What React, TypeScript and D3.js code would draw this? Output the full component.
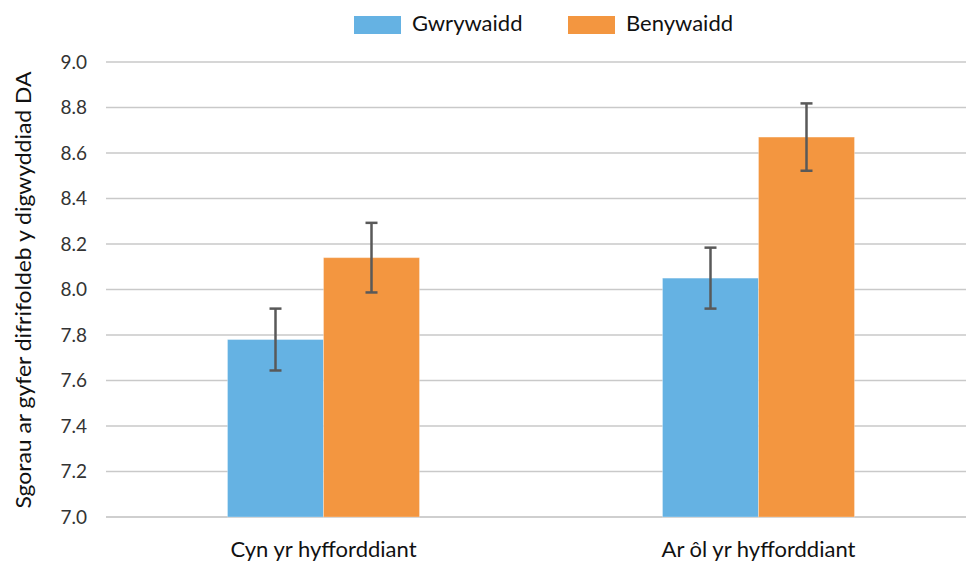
import React from "react";
import * as d3 from "d3";

const categories = ["Cyn yr hyfforddiant", "Ar ôl yr hyfforddiant"];
const seriesNames = ["Gwrywaidd", "Benywaidd"];
const maleValues = [7.78, 8.05];
const femaleValues = [8.14, 8.67];
const maleErrors = [0.136, 0.134];
const femaleErrors = [0.153, 0.148];
const yTicks = [7.0, 7.2, 7.4, 7.6, 7.8, 8.0, 8.2, 8.4, 8.6, 8.8, 9.0];
const colors = ["#65B2E3", "#F39640"];

const W = 966;
const H = 563;
const FONT = "Lato, 'Open Sans', sans-serif";

export default function App() {
  const left = 106;
  const right = 976;
  const top = 62;
  const bottom = 517;

  const x = d3.scaleBand<string>().domain(categories).range([left, right]).paddingInner(0).paddingOuter(0);
  const y = d3.scaleLinear().domain([7, 9]).range([bottom, top]);
  const barW = 96;
  const series = [
    { name: seriesNames[0], values: maleValues, errs: maleErrors, color: colors[0] },
    { name: seriesNames[1], values: femaleValues, errs: femaleErrors, color: colors[1] },
  ];

  return (
    <svg width={W} height={H} style={{ display: "block", position: "absolute", left: 0, top: 0 }} fontFamily={FONT}>
      <rect width={W} height={H} fill="#fff" />
      {yTicks.map((t) => (
        <g key={t}>
          <line x1={left} x2={W} y1={y(t)} y2={y(t)} stroke={t === 7 ? "#BFBFBF" : "#C9C9C9"} strokeWidth={1.5} />
          <text x={87} y={y(t)} dy="0.35em" textAnchor="end" fontSize={19} fill="#333">
            {t.toFixed(1)}
          </text>
        </g>
      ))}
      {categories.map((c, i) => {
        const cx = (x(c) as number) + x.bandwidth() / 2;
        return (
          <g key={c}>
            {series.map((s, j) => {
              const bx = cx - barW + j * barW;
              const v = s.values[i];
              const e = s.errs[i];
              const mx = bx + barW / 2;
              return (
                <g key={s.name}>
                  <rect x={bx} y={y(v)} width={barW} height={y(7) - y(v)} fill={s.color} stroke="#fff" strokeOpacity={0.3} strokeWidth={1} />
                  <line x1={mx} x2={mx} y1={y(v + e)} y2={y(v - e)} stroke="#595959" strokeWidth={2.5} />
                  <line x1={mx - 6} x2={mx + 6} y1={y(v + e)} y2={y(v + e)} stroke="#595959" strokeWidth={2.5} />
                  <line x1={mx - 6} x2={mx + 6} y1={y(v - e)} y2={y(v - e)} stroke="#595959" strokeWidth={2.5} />
                </g>
              );
            })}
            <text x={cx} y={557} textAnchor="middle" fontSize={22} fill="#111">
              {c}
            </text>
          </g>
        );
      })}
      <text transform={`translate(31,290) rotate(-90)`} textAnchor="middle" fontSize={22} fill="#111" textLength={437} lengthAdjust="spacingAndGlyphs">
        Sgorau ar gyfer difrifoldeb y digwyddiad DA
      </text>
      {series.map((s, j) => {
        const lx = j === 0 ? 354 : 568;
        return (
          <g key={s.name}>
            <rect x={lx} y={16} width={47} height={18} fill={s.color} />
            <text x={lx + 58} y={31} fontSize={22} fill="#111">
              {s.name}
            </text>
          </g>
        );
      })}
    </svg>
  );
}
